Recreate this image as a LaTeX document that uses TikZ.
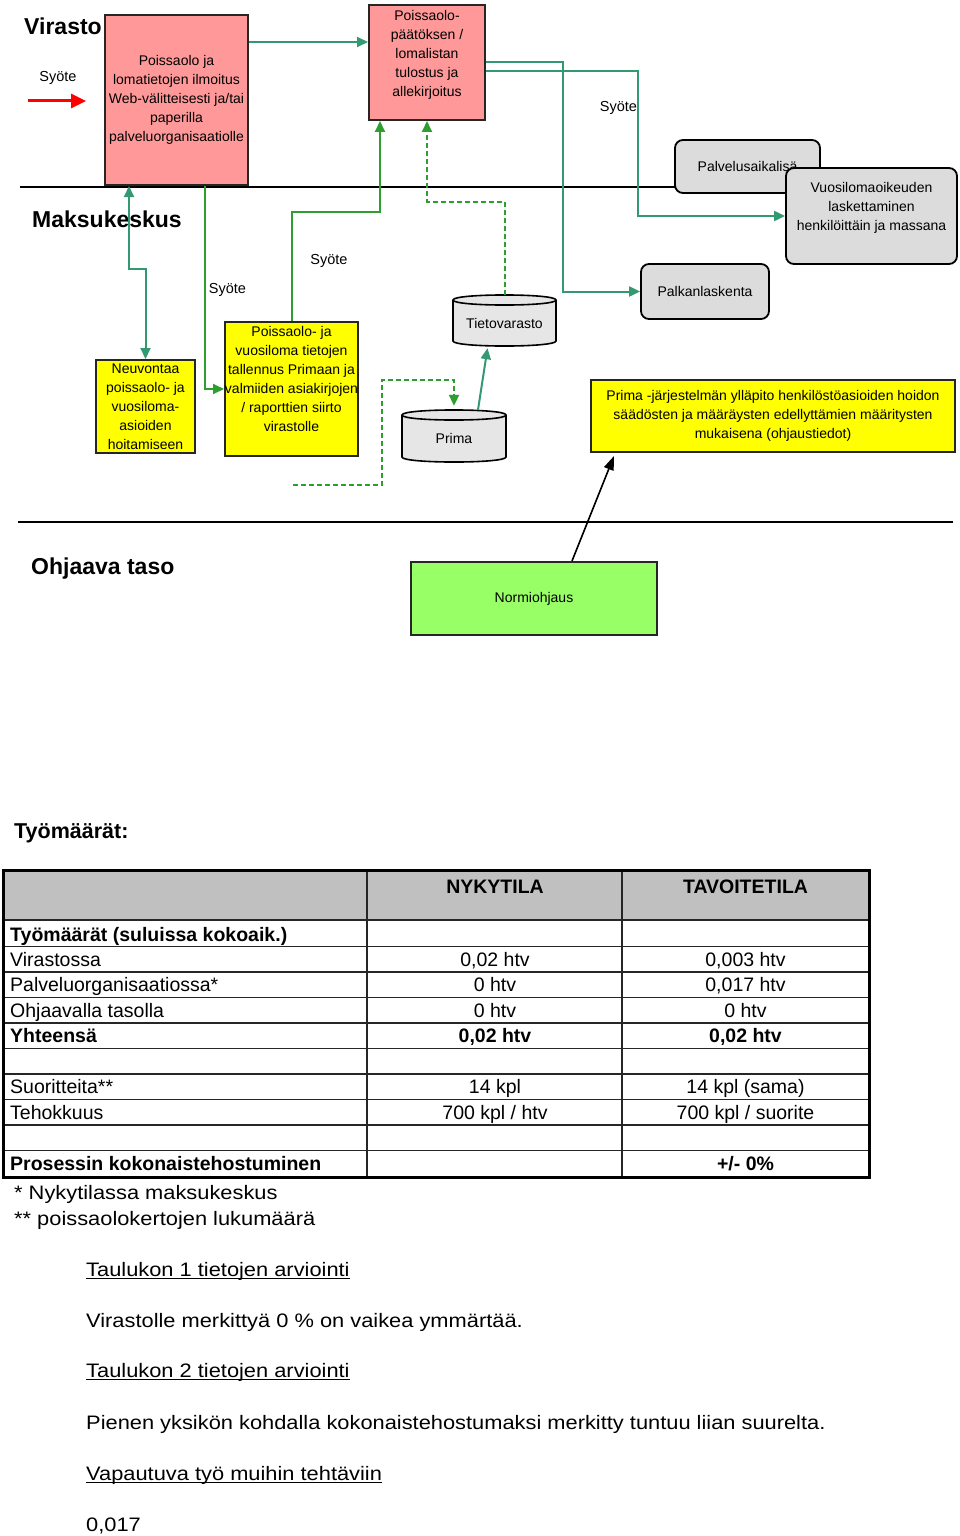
\documentclass[tikz,border=0pt]{standalone}
\usepackage{fontspec}
\setmainfont{Liberation Sans}
\newfontfamily\widefont[FakeStretch=1.12]{Liberation Sans}
\usetikzlibrary{arrows.meta,calc}
\definecolor{pinkc}{HTML}{FF9999}
\definecolor{yelc}{HTML}{FFFF00}
\definecolor{greenbox}{HTML}{99FF66}
\definecolor{grayc}{HTML}{DCDCDC}
\definecolor{cylc}{HTML}{E6E6E6}
\definecolor{tealc}{HTML}{339973}
\definecolor{greenc}{HTML}{2E9E2E}
\definecolor{hdrc}{HTML}{C0C0C0}
\newcommand{\boxfont}{\fontsize{14}{19}\selectfont}
\newcommand{\lblfont}{\fontsize{14.5}{19}\selectfont}
\newcommand{\tabfont}{\fontsize{19.5}{23}\selectfont}
\newcommand{\footfont}{\widefont\fontsize{19.5}{24}\selectfont}
\newcommand{\headfont}{\fontsize{23}{27}\selectfont\bfseries}
\newcommand{\headfontb}{\fontsize{21.5}{26}\selectfont\bfseries}
\begin{document}
\begin{tikzpicture}[x=1pt,y=-1pt,
  box/.style={draw=black!85, line width=2pt, inner sep=0pt, align=center, font=\boxfont},
  pinkbox/.style={box, fill=pinkc},
  yelbox/.style={box, fill=yelc},
  greenbx/.style={box, fill=greenbox},
  graybox/.style={box, draw=black, line width=1.8pt, fill=grayc, rounded corners=8pt},
  btext/.style={inner sep=0pt, align=center, font=\boxfont},
  cyltext/.style={inner sep=0pt, align=center, font=\boxfont, text height=18pt, text depth=3pt},
  cylshape/.style={draw=black, line width=1.6pt, fill=cylc},
  cylline/.style={draw=black, line width=1.6pt},
  lbl/.style={inner sep=0pt, font=\lblfont},
  head/.style={inner sep=0pt, font=\headfont, anchor=base west},
  headb/.style={inner sep=0pt, font=\headfontb, anchor=base west},
  sepline/.style={line width=1.7pt, black},
  tealar/.style={draw=tealc, line width=2pt, -{Triangle[length=11pt,width=10pt]}},
  greenar/.style={draw=greenc, line width=2pt, -{Triangle[length=11pt,width=10pt]}},
  dashar/.style={greenar, dash pattern=on 5pt off 3pt},
  tabline/.style={line width=1.6pt, black!85},
  tl/.style={anchor=base west, inner sep=0pt, font=\tabfont},
  tc/.style={anchor=base, inner sep=0pt, font=\tabfont},
  ft/.style={anchor=base west, inner sep=0pt, font=\footfont},
  uline/.style={line width=1.2pt, black}
]
\useasboundingbox (0,0) rectangle (960,1536);
\fill[white] (0,0) rectangle (960,1536);

% separators
\coordinate (s1a) at (20,187); \coordinate (s1b) at (676,187);
\coordinate (s2a) at (18,522); \coordinate (s2b) at (953,522);
\draw[sepline] (s1a) -- (s1b);
\draw[sepline] (s2a) -- (s2b);

% headings
\node[head] (hvir) at (24,35) {Virasto};
\node[head] (hmak) at (32,227) {Maksukeskus};
\node[head] (hohj) at (31,574) {Ohjaava taso};
\node[headb] (htyo) at (14,838) {Työmäärät:};

% boxes
\node[pinkbox, minimum width=143pt, minimum height=170pt] (web) at (176.5,100) {Poissaolo ja\\lomatietojen ilmoitus\\Web-välitteisesti ja/tai\\paperilla\\palveluorganisaatiolle};
\node[pinkbox, minimum width=116pt, minimum height=115pt] (tulostus) at (427,62.5) {};
\node[btext, anchor=north] (tulostustxt) at (427,10) {Poissaolo-\\päätöksen /\\lomalistan\\tulostus ja\\allekirjoitus};
\node[graybox, minimum width=145pt, minimum height=53pt] (palvelus) at (747.5,166.5) {Palvelusaikalisä};
\node[graybox, minimum width=171pt, minimum height=96pt] (vuosi) at (871.5,216) {};
\node[btext, anchor=north] (vuositxt) at (871.5,182) {Vuosilomaoikeuden\\laskettaminen\\henkilöittäin ja massana};
\node[graybox, minimum width=128pt, minimum height=55pt] (palkan) at (705,291.5) {Palkanlaskenta};
\node[yelbox, minimum width=99pt, minimum height=93pt] (neuvo) at (145.5,406.5) {Neuvontaa\\poissaolo- ja\\vuosiloma-\\asioiden\\hoitamiseen};
\node[yelbox, minimum width=133pt, minimum height=134pt] (tallennus) at (291.5,389) {};
\node[btext, anchor=north] (tallennustxt) at (291.5,326) {Poissaolo- ja\\vuosiloma tietojen\\tallennus Primaan ja\\valmiiden asiakirjojen\\/ raporttien siirto\\virastolle};
\node[yelbox, minimum width=364pt, minimum height=72pt] (yel3) at (773,416) {Prima -järjestelmän ylläpito henkilöstöasioiden hoidon\\säädösten ja määräysten edellyttämien määritysten\\mukaisena (ohjaustiedot)};
\node[greenbx, minimum width=246pt, minimum height=73pt] (normi) at (534,598.5) {Normiohjaus};

% cylinders
\path[cylshape] (453,300) -- (453,341) .. controls (453,347.7) and (556,347.7) .. (556,341) -- (556,300) .. controls (556,293.3) and (453,293.3) .. (453,300) -- cycle;
\draw[cylline] (453,300) .. controls (453,306.7) and (556,306.7) .. (556,300);
\node[cyltext, minimum width=103pt, minimum height=51pt] (tieto) at (504.5,320.5) {Tietovarasto};
\path[cylshape] (402,415) -- (402,457) .. controls (402,463.7) and (506,463.7) .. (506,457) -- (506,415) .. controls (506,408.3) and (402,408.3) .. (402,415) -- cycle;
\draw[cylline] (402,415) .. controls (402,421.7) and (506,421.7) .. (506,415);
\node[cyltext, minimum width=104pt, minimum height=52pt] (prima) at (454,436) {Prima};

% labels
\node[lbl] (sy1) at (58,78) {Syöte};
\node[lbl] (sy2) at (227.5,290) {Syöte};
\node[lbl] (sy3) at (329,261) {Syöte};
\node[lbl] (sy4) at (618.5,108) {Syöte};

% connectors
\coordinate (redS) at (28,101);
\coordinate (redE) at (86,101);
\draw[line width=3pt, red, -{Triangle[length=15pt,width=14pt]}] (redS) -- (redE);

\draw[tealar] ($(web.north east)+(0,28)$) -- ($(tulostus.north west)+(0,38)$);
\draw[tealar] (tulostus.east) -- ++(77,0) |- (palkan.west);
\draw[tealar] ($(tulostus.east)+(0,9)$) -- ++(152,0) |- (vuosi.west);
\draw[tealar, {Triangle[length=11pt,width=10pt]}-{Triangle[length=11pt,width=10pt]}] ($(web.south west)+(25,0)$) -- ++(0,83) -| (neuvo.north);
\draw[greenar] ($(web.south west)+(101,0)$) |- (tallennus.west);
\draw[greenar] (tallennus.north) -- ++(0,-109) -| ($(tulostus.south west)+(12,0)$);
\draw[dashar] (tieto.north) -- ++(0,-93) -| (tulostus.south);
\coordinate (dstart) at (293,485);
\draw[dashar] (dstart) -- ++(89,0) |- ($(prima.north)+(0,-30)$) -- ($(prima.north)+(0,-4)$);
\draw[tealar] ($(prima.north)+(24,0)$) -- ($(tieto.south)+(-17,2)$);
\draw[line width=1.6pt, black, -{Triangle[length=14pt,width=10pt]}] ($(normi.north)+(38,0)$) -- ($(yel3.south west)+(24,3)$);

% table
\fill[hdrc] (3,870) rectangle (869,920);
\foreach \yy in {920,946.5,972,997.5,1023,1048.5,1074,1099.5,1125,1150.5}
  \draw[tabline] (3,\yy) -- (869,\yy);
\draw[tabline] (367,870) -- (367,1177);
\draw[tabline] (622,870) -- (622,1177);
\draw[line width=3pt, black] (3,870) rectangle (869,1177);

\node[tc, font=\tabfont\bfseries] (hn) at (495,893) {NYKYTILA};
\node[tc, font=\tabfont\bfseries] (ht) at (745.5,893) {TAVOITETILA};

\node[tl, font=\tabfont\bfseries] (r1a) at (10,941) {Työmäärät (suluissa kokoaik.)};
\node[tl] (r2a) at (10,966) {Virastossa};
\node[tc] (r2b) at (495,966) {0,02 htv};
\node[tc] (r2c) at (745.5,966) {0,003 htv};
\node[tl] (r3a) at (10,991) {Palveluorganisaatiossa*};
\node[tc] (r3b) at (495,991) {0 htv};
\node[tc] (r3c) at (745.5,991) {0,017 htv};
\node[tl] (r4a) at (10,1017) {Ohjaavalla tasolla};
\node[tc] (r4b) at (495,1017) {0 htv};
\node[tc] (r4c) at (745.5,1017) {0 htv};
\node[tl, font=\tabfont\bfseries] (r5a) at (10,1042) {Yhteensä};
\node[tc, font=\tabfont\bfseries] (r5b) at (495,1042) {0,02 htv};
\node[tc, font=\tabfont\bfseries] (r5c) at (745.5,1042) {0,02 htv};
\node[tl] (r7a) at (10,1093) {Suoritteita**};
\node[tc] (r7b) at (495,1093) {14 kpl};
\node[tc] (r7c) at (745.5,1093) {14 kpl (sama)};
\node[tl] (r8a) at (10,1119) {Tehokkuus};
\node[tc] (r8b) at (495,1119) {700 kpl / htv};
\node[tc] (r8c) at (745.5,1119) {700 kpl / suorite};
\node[tl, font=\tabfont\bfseries] (r10a) at (10,1170) {Prosessin kokonaistehostuminen};
\node[tc, font=\tabfont\bfseries] (r10c) at (745.5,1170) {+/- 0\%};

% footer
\node[ft] (f1) at (14,1199) {* Nykytilassa maksukeskus};
\node[ft] (f2) at (14,1225) {** poissaolokertojen lukumäärä};
\node[ft] (tau1) at (86,1276) {Taulukon 1 tietojen arviointi};
\draw[uline] ($(tau1.base west)+(0,2.5)$) -- ($(tau1.base east)+(0,2.5)$);
\node[ft] (f3) at (86,1327) {Virastolle merkittyä 0 \% on vaikea ymmärtää.};
\node[ft] (tau2) at (86,1377) {Taulukon 2 tietojen arviointi};
\draw[uline] ($(tau2.base west)+(0,2.5)$) -- ($(tau2.base east)+(0,2.5)$);
\node[ft] (f4) at (86,1429) {Pienen yksikön kohdalla kokonaistehostumaksi merkitty tuntuu liian suurelta.};
\node[ft] (vap) at (86,1480) {Vapautuva työ muihin tehtäviin};
\draw[uline] ($(vap.base west)+(0,2.5)$) -- ($(vap.base east)+(0,2.5)$);
\node[ft] (f5) at (86,1531) {0,017};
\end{tikzpicture}
\end{document}
